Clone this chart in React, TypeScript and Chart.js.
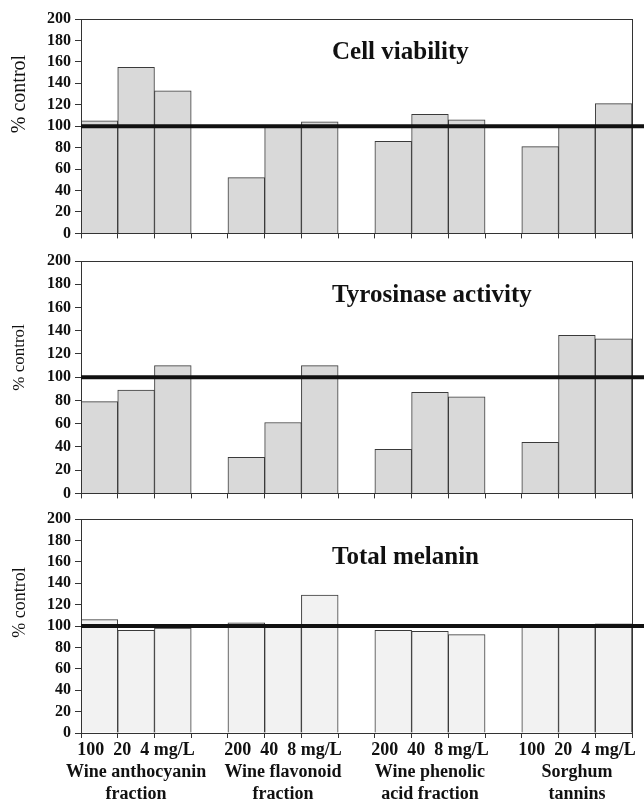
import React, { useEffect, useRef } from 'react';
import { Chart, registerables } from 'chart.js';

Chart.register(...registerables);

// ---- data ----
const categories = ['100', '20', '4', '', '200', '40', '8', '', '200', '40', '8', '', '100', '20', '4'];
const cellViability = [105, 155, 133, null, 52, 99, 104, null, 86, 111, 106, null, 81, 99, 121];
const tyrosinaseActivity = [79, 89, 110, null, 31, 61, 110, null, 38, 87, 83, null, 44, 136, 133];
const totalMelanin = [106, 96, 98, null, 103, 100, 129, null, 96, 95, 92, null, 100, 100, 102];
const groupIndexes = [1, 5, 9, 13];
const doseLabels = ['100  20  4 mg/L', '200  40  8 mg/L', '200  40  8 mg/L', '100  20  4 mg/L'];
const groupNames = [
  ['Wine anthocyanin', 'fraction'],
  ['Wine flavonoid', 'fraction'],
  ['Wine phenolic', 'acid fraction'],
  ['Sorghum', 'tannins'],
];
const yMin = 0;
const yMax = 200;
const yStep = 20;
const controlLevel = 100;
const yAxisTitle = '% control';

const SERIF = '"Liberation Serif", "Times New Roman", serif';

const overlayPlugin = {
  id: 'overlay',
  afterDatasetsDraw(chart: any, _args: any, opts: any) {
    const { ctx, chartArea: a, scales } = chart;
    const y = scales.y;
    ctx.save();
    // frame
    ctx.strokeStyle = '#333';
    ctx.lineWidth = 1;
    ctx.strokeRect(Math.round(a.left) + 0.5, Math.round(a.top) + 0.5, Math.round(a.right - a.left), Math.round(a.bottom - a.top));
    // control line
    const py = y.getPixelForValue(controlLevel);
    ctx.strokeStyle = '#111';
    ctx.lineWidth = 4;
    ctx.beginPath();
    ctx.moveTo(a.left, py);
    ctx.lineTo(chart.width, py);
    ctx.stroke();
    // panel title
    ctx.fillStyle = '#111';
    ctx.font = `bold 25px ${SERIF}`;
    ctx.textAlign = 'left';
    ctx.textBaseline = 'middle';
    ctx.fillText(opts.title, a.left + 251, y.getPixelForValue(opts.titleValue));
    // y axis title
    ctx.save();
    ctx.translate(20, y.getPixelForValue(opts.axisTitleValue));
    ctx.rotate(-Math.PI / 2);
    ctx.font = `${opts.axisTitleSize}px ${SERIF}`;
    ctx.textAlign = 'center';
    ctx.textBaseline = 'middle';
    ctx.fillText(yAxisTitle, 0, 0);
    ctx.restore();
    ctx.restore();
  },
};

type PanelProps = {
  values: (number | null)[];
  title: string;
  fill: string;
  top: number;
  height: number;
  padTop: number;
  xAxisHeight: number;
  showLabels: boolean;
  titleValue: number;
  axisTitleValue: number;
  axisTitleSize: number;
};

function Panel(p: PanelProps) {
  const ref = useRef<HTMLCanvasElement>(null);
  useEffect(() => {
    if (!ref.current) return;
    const chart = new Chart(ref.current, {
      type: 'bar',
      data: {
        labels: categories,
        datasets: [
          {
            data: p.values,
            backgroundColor: p.fill,
            borderColor: '#3a3a3a',
            borderWidth: 1,
            barPercentage: 1,
            categoryPercentage: 1,
          },
        ],
      },
      options: {
        animation: false,
        responsive: false,
        devicePixelRatio: 1,
        layout: { padding: { left: 0, right: 12, top: p.padTop, bottom: 0 } },
        plugins: {
          legend: { display: false },
          tooltip: { enabled: false },
          overlay: {
            title: p.title,
            titleValue: p.titleValue,
            axisTitleValue: p.axisTitleValue,
            axisTitleSize: p.axisTitleSize,
          },
        } as any,
        scales: {
          x: {
            type: 'category',
            offset: true,
            grid: { offset: true, drawOnChartArea: false, drawTicks: true, tickLength: 5, color: '#333' },
            border: { display: true, color: '#333', width: 1 },
            ticks: {
              autoSkip: false,
              maxRotation: 0,
              minRotation: 0,
              padding: 1,
              color: '#111',
              font: { family: SERIF, size: 18, weight: 'bold', lineHeight: 1.22 },
              callback: (_v: any, i: number) => {
                if (!p.showLabels) return '';
                const g = groupIndexes.indexOf(i);
                if (g < 0) return '';
                return [doseLabels[g], ...groupNames[g]];
              },
            },
            afterFit: (s: any) => {
              s.height = p.xAxisHeight;
            },
          },
          y: {
            min: yMin,
            max: yMax,
            grid: { drawOnChartArea: false, drawTicks: true, tickLength: 6, color: '#333' },
            border: { display: true, color: '#333', width: 1 },
            ticks: {
              stepSize: yStep,
              autoSkip: false,
              padding: 4,
              color: '#111',
              font: { family: SERIF, size: 16, weight: 'bold' },
            },
            afterFit: (s: any) => {
              s.width = 81;
            },
          },
        },
      },
      plugins: [overlayPlugin],
    } as any);
    return () => chart.destroy();
  }, []);
  return (
    <canvas
      ref={ref}
      width={644}
      height={p.height}
      style={{ position: 'absolute', left: 0, top: p.top, width: 644, height: p.height }}
    />
  );
}

export default function App() {
  return (
    <div style={{ position: 'absolute', left: 0, top: 0, width: 644, height: 800, background: '#fff' }}>
      <Panel values={cellViability} title="Cell viability" fill="#d9d9d9" top={0} height={247} padTop={19}
        xAxisHeight={10} showLabels={false} titleValue={169} axisTitleValue={130} axisTitleSize={20} />
      <Panel values={tyrosinaseActivity} title="Tyrosinase activity" fill="#d9d9d9" top={247} height={260} padTop={14}
        xAxisHeight={10} showLabels={false} titleValue={170} axisTitleValue={117} axisTitleSize={17} />
      <Panel values={totalMelanin} title="Total melanin" fill="#f2f2f2" top={505} height={295} padTop={14}
        xAxisHeight={67} showLabels={true} titleValue={164} axisTitleValue={122} axisTitleSize={18} />
    </div>
  );
}
